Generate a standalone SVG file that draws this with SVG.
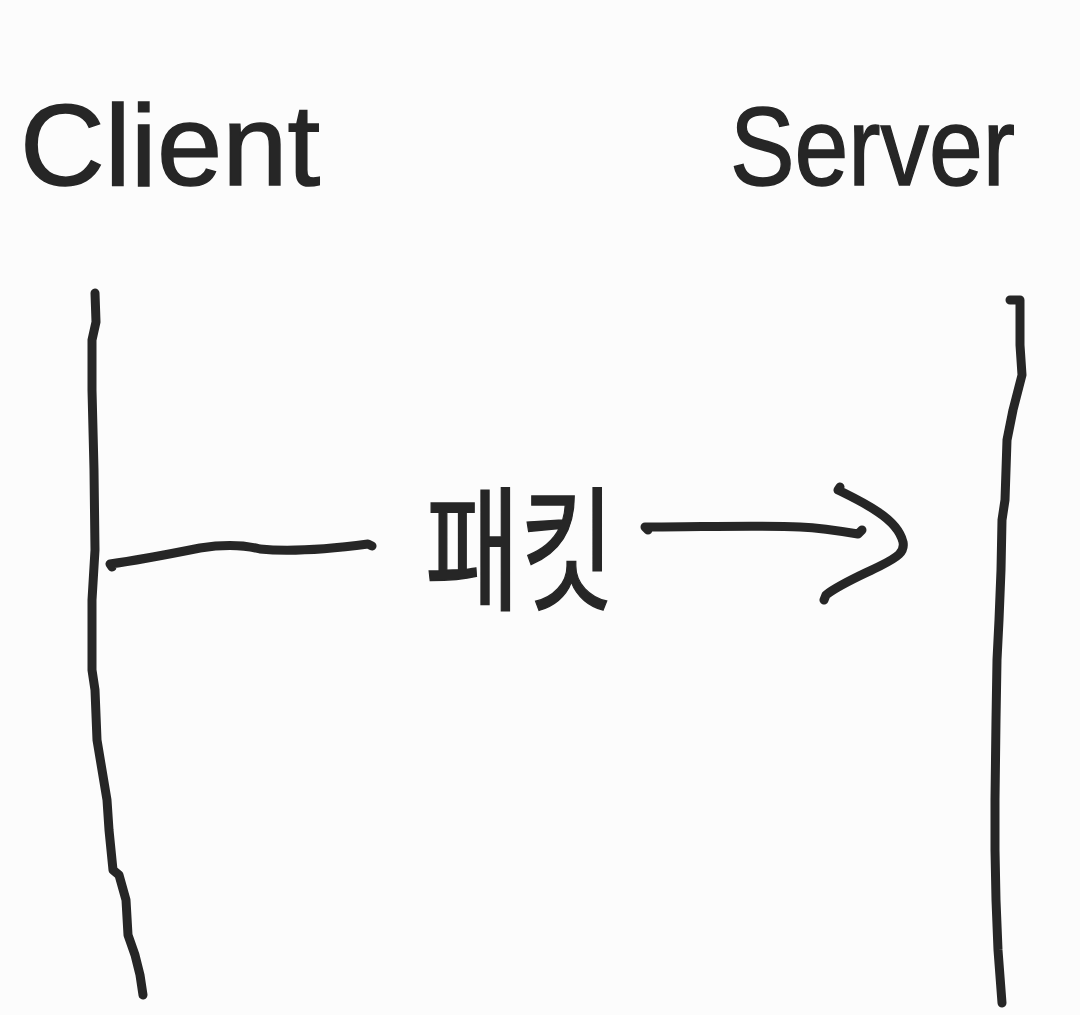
<svg xmlns="http://www.w3.org/2000/svg" width="1080" height="1015" viewBox="0 0 1080 1015">
<style>
.ink{fill:none;stroke:#262626;stroke-width:9;stroke-linecap:round;stroke-linejoin:round}
.lbl{fill:#262626;stroke:#262626;stroke-width:1.5;font-family:"Liberation Sans","Noto Sans CJK KR",sans-serif}
</style>
<rect width="1080" height="1015" fill="#fcfcfc"/>
<g id="client">
<text class="lbl" x="20" y="185" font-size="115" textLength="300" lengthAdjust="spacingAndGlyphs">Client</text>
<path class="ink" d="M95,293 L96,322 L92,340 L92,390 L94,470 L95,550 L92,600 L92,670 L95,690 L97,740 L102,770 L107,800 L109,830 L113,870 L119,875 L126,900 L128,935 L135,955 L140,975 L143,995"/>
</g>
<g id="server">
<text class="lbl" x="730" y="185" font-size="112" textLength="285" lengthAdjust="spacingAndGlyphs">Server</text>
<path class="ink" d="M1010,300 L1020,300 L1020,345 L1022,375 L1013,410 L1007,440 L1005,500 L1002,520 L1001,570 L999,620 L997,660 L996,720 L995,800 L995,850 L996,900 L998,950 L1002,1003"/>
</g>
<g id="packet-label">
<text class="lbl" x="425" y="600" font-size="135" textLength="190" lengthAdjust="spacingAndGlyphs">패킷</text>
</g>
<g id="connectors">
<path class="ink" d="M112,567 L110,564 C140,560 170,554 200,548 C220,545 240,544 260,549 C290,552 330,549 368,544 L372,546"/>
<path class="ink" d="M648,530 L645,527 C700,527 760,525 800,527 C820,528 840,531 858,534 L862,530"/>
<path class="ink" d="M840,487 L838,490 C850,496 865,503 878,512 C890,520 900,530 903,542 C905,552 898,557 880,566 C862,575 840,584 826,595 L824,600"/>
</g>
</svg>
